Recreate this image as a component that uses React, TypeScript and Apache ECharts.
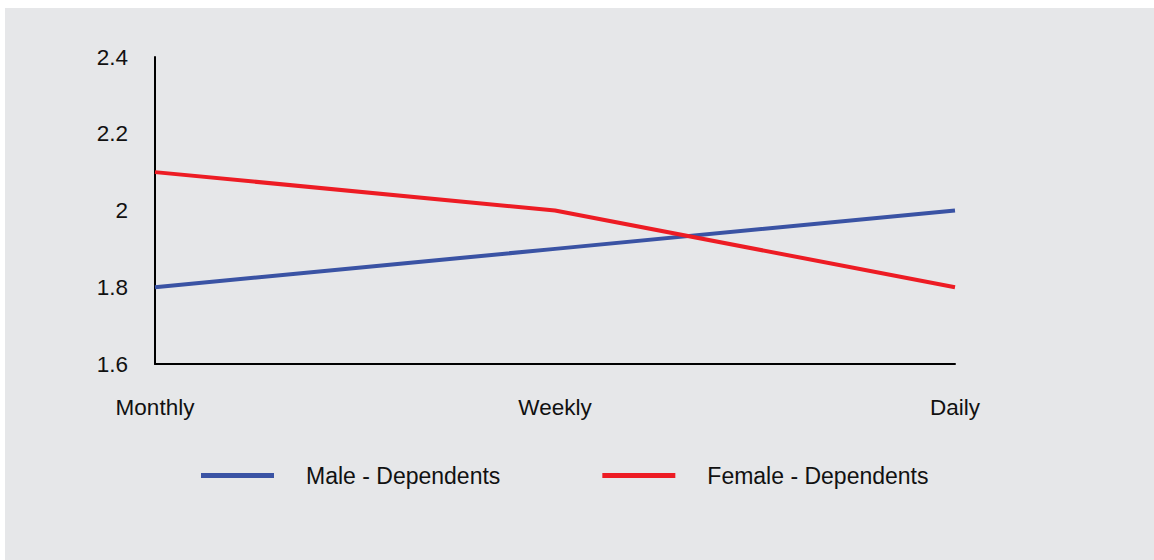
import React, { useEffect, useRef } from "react";
import * as echarts from "echarts";

const categories = ["Monthly", "Weekly", "Daily"];
const maleValues = [1.8, 1.9, 2.0];
const femaleValues = [2.1, 2.0, 1.8];
const seriesNames = ["Male - Dependents", "Female - Dependents"];

export default function App() {
  const ref = useRef<HTMLDivElement>(null);
  useEffect(() => {
    if (!ref.current) return;
    const chart = echarts.init(ref.current, undefined, { renderer: "svg" });
    const font = "Liberation Sans, Arial, sans-serif";
    chart.setOption({
      animation: false,
      backgroundColor: "transparent",
      grid: { left: 155, right: 199, top: 57, bottom: 196, containLabel: false },
      xAxis: {
        type: "category",
        data: categories,
        boundaryGap: false,
        axisLine: { show: true, lineStyle: { color: "#000", width: 2 } },
        axisTick: { show: false },
        axisLabel: { color: "#111", fontSize: 22.5, fontFamily: font, margin: 32 },
        splitLine: { show: false },
      },
      yAxis: {
        type: "value",
        min: 1.6,
        max: 2.4,
        interval: 0.2,
        axisLine: { show: true, lineStyle: { color: "#000", width: 2 } },
        axisTick: { show: false },
        splitLine: { show: false },
        axisLabel: {
          color: "#111",
          fontSize: 22.5,
          fontFamily: font,
          margin: 27,
          formatter: (v: number) => String(Math.round(v * 10) / 10),
        },
      },
      legend: {
        left: 201,
        top: 464,
        padding: 0,
        icon: "rect",
        itemWidth: 73,
        itemHeight: 5,
        itemGap: 102,
        textStyle: { color: "#111", fontSize: 23, fontFamily: font, padding: [0, 0, 0, 27] },
        data: seriesNames,
      },
      series: [
        {
          name: seriesNames[0],
          type: "line",
          data: maleValues,
          symbol: "none",
          lineStyle: { color: "#3a53a4", width: 4 },
          itemStyle: { color: "#3a53a4" },
        },
        {
          name: seriesNames[1],
          type: "line",
          data: femaleValues,
          symbol: "none",
          lineStyle: { color: "#ed1c24", width: 4 },
          itemStyle: { color: "#ed1c24" },
        },
      ],
    });
    return () => chart.dispose();
  }, []);
  return (
    <div style={{ position: "fixed", left: 0, top: 0, width: 1154, height: 560, background: "#fff" }}>
      <div style={{ position: "absolute", left: 5, top: 8, right: 0, bottom: 0, background: "#e6e7e9" }} />
      <div ref={ref} style={{ position: "absolute", left: 0, top: 0, width: 1154, height: 560 }} />
    </div>
  );
}
